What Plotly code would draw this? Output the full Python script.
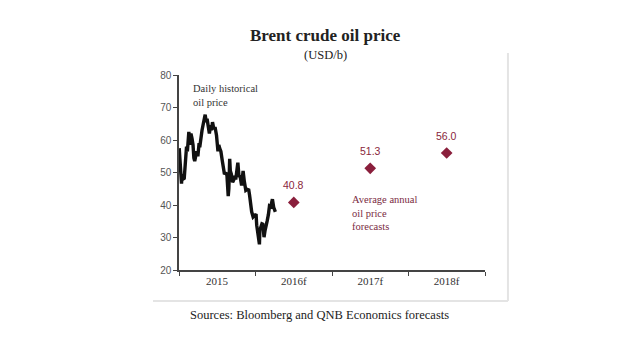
import plotly.graph_objects as go

# Daily historical Brent price
hist_dates = [
    "2015-01-02", "2015-01-06", "2015-01-09", "2015-01-13", "2015-01-16", "2015-01-21",
    "2015-01-26", "2015-01-30", "2015-02-03", "2015-02-06", "2015-02-10", "2015-02-13",
    "2015-02-17", "2015-02-23", "2015-02-27", "2015-03-04", "2015-03-09", "2015-03-13",
    "2015-03-17", "2015-03-23", "2015-03-27", "2015-04-01", "2015-04-07", "2015-04-10",
    "2015-04-15", "2015-04-21", "2015-04-27", "2015-05-01", "2015-05-06", "2015-05-11",
    "2015-05-15", "2015-05-20", "2015-05-26", "2015-06-01", "2015-06-05", "2015-06-10",
    "2015-06-16", "2015-06-22", "2015-06-29", "2015-07-06", "2015-07-10", "2015-07-14",
    "2015-07-20", "2015-07-27", "2015-07-31", "2015-08-06", "2015-08-12", "2015-08-18",
    "2015-08-24", "2015-08-27", "2015-08-31", "2015-09-03", "2015-09-08", "2015-09-14",
    "2015-09-18", "2015-09-24", "2015-09-30", "2015-10-06", "2015-10-09", "2015-10-14",
    "2015-10-20", "2015-10-27", "2015-11-03", "2015-11-09", "2015-11-16", "2015-11-23",
    "2015-11-30", "2015-12-04", "2015-12-08", "2015-12-14", "2015-12-21", "2015-12-28",
    "2016-01-04", "2016-01-07", "2016-01-12", "2016-01-15", "2016-01-20", "2016-01-22",
    "2016-01-27", "2016-02-01", "2016-02-05", "2016-02-11", "2016-02-16", "2016-02-22",
    "2016-02-26", "2016-03-03", "2016-03-08", "2016-03-14", "2016-03-18", "2016-03-22",
    "2016-03-28", "2016-04-01", "2016-04-05",
]
hist_values = [
    57.5, 52.0, 50.0, 46.6, 49.5, 48.0,
    48.2, 52.5, 57.5, 58.0, 56.5, 61.5,
    62.5, 58.5, 62.0, 60.5, 58.5, 54.5,
    53.5, 55.5, 56.5, 55.0, 59.0, 57.8,
    61.5, 63.0, 65.0, 66.5, 67.8, 65.5,
    66.5, 64.5, 62.0, 64.5, 63.0, 65.5,
    63.5, 64.0, 61.5, 56.5, 58.5, 57.5,
    56.5, 53.5, 52.2, 49.5, 50.0, 49.0,
    42.7, 45.0, 54.2, 50.5, 49.5, 47.0,
    47.5, 48.5, 48.4, 51.9, 53.0, 49.0,
    48.7, 46.0, 50.5, 47.2, 44.5, 44.8,
    44.6, 43.0, 40.0, 37.9, 36.3, 36.6,
    37.2, 33.8, 30.9, 28.9, 27.9, 32.2,
    33.1, 34.2, 34.1, 30.1, 32.2, 34.7,
    35.1, 37.1, 39.7, 39.5, 41.2, 41.8,
    39.3, 38.7, 37.9,
]

# Average annual forecasts
fc_dates = ["2016-07-02", "2017-07-02", "2018-07-02"]
fc_values = [40.8, 51.3, 56.0]
fc_labels = ["40.8", "51.3", "56.0"]

# Category tick labels
cat_dates = ["2015-07-02", "2016-07-02", "2017-07-02", "2018-07-02"]
cat_labels = ["2015", "2016f", "2017f", "2018f"]
y_ticks = [20, 30, 40, 50, 60, 70, 80]

MAROON = "#8a1f3c"
SERIF = "Liberation Serif, Times New Roman, serif"
SANS = "Liberation Sans, Arial, sans-serif"

fig = go.Figure()
fig.add_trace(go.Scatter(
    x=hist_dates, y=hist_values, mode="lines",
    line=dict(color="#111111", width=3.4), showlegend=False, hoverinfo="skip",
))
fig.add_trace(go.Scatter(
    x=fc_dates, y=fc_values, mode="markers",
    marker=dict(symbol="diamond", size=9, color=MAROON), showlegend=False,
))

annotations = []
for d, v, t in zip(fc_dates, fc_values, fc_labels):
    annotations.append(dict(x=d, y=v, xref="x", yref="y", text=t, showarrow=False,
                            yshift=17, font=dict(family=SANS, size=10.5, color=MAROON)))

annotations += [
    dict(x=0.48, y=1.205, xref="paper", yref="paper", xanchor="center", yanchor="middle",
         text="<b>Brent crude oil price</b>",
         showarrow=False, font=dict(family=SERIF, size=17, color="#222222")),
    dict(x=0.48, y=1.103, xref="paper", yref="paper", xanchor="center", yanchor="middle",
         text="(USD/b)",
         showarrow=False, font=dict(family=SERIF, size=12.5, color="#222222")),
    dict(x=0.46, y=-0.231, xref="paper", yref="paper", xanchor="center", yanchor="middle",
         text="Sources: Bloomberg and QNB Economics forecasts",
         showarrow=False, font=dict(family=SERIF, size=12.5, color="#222222")),
    dict(x=0.04, y=0.97, xref="paper", yref="paper", xanchor="left", yanchor="top",
         text="Daily historical<br>oil price", align="left", showarrow=False,
         font=dict(family=SERIF, size=10.5, color="#333333")),
    dict(x=0.56, y=0.40, xref="paper", yref="paper", xanchor="left", yanchor="top",
         text="Average annual<br>oil price<br>forecasts", align="left", showarrow=False,
         font=dict(family=SERIF, size=10.5, color="#7a2a42")),
]

shapes = [
    dict(type="line", xref="paper", yref="paper", x0=-0.085, x1=1.075, y0=-0.159, y1=-0.159,
         line=dict(color="#e4e4e4", width=2)),
    dict(type="line", xref="paper", yref="paper", x0=1.075, x1=1.075, y0=-0.159, y1=1.113,
         line=dict(color="#e4e4e4", width=2)),
]

# Page body has an 8px margin: size the figure to fit and offset the plot area.
fig.update_layout(
    width=612, height=347,
    margin=dict(l=171, r=135, t=67, b=85),
    paper_bgcolor="white", plot_bgcolor="white",
    annotations=annotations, shapes=shapes,
    xaxis=dict(
        type="date", range=["2015-01-01", "2019-01-01"],
        tickmode="array", tickvals=cat_dates, ticktext=cat_labels, ticks="",
        tickfont=dict(family=SERIF, size=11, color="#333333"),
        showgrid=False, zeroline=False, showline=True, linecolor="#444444", linewidth=1.5,
        minor=dict(ticks="outside", dtick="M12", tick0="2015-01-01", ticklen=4,
                   tickcolor="#444444", tickwidth=1.2, showgrid=False),
        fixedrange=True,
    ),
    yaxis=dict(
        range=[20, 80], tickmode="array", tickvals=y_ticks,
        ticks="outside", ticklen=4, tickcolor="#444444", tickwidth=1.2,
        tickfont=dict(family=SANS, size=10, color="#555555"),
        showgrid=False, zeroline=False, showline=True, linecolor="#444444", linewidth=1.5,
        fixedrange=True,
    ),
)

fig.write_html("out.html")
